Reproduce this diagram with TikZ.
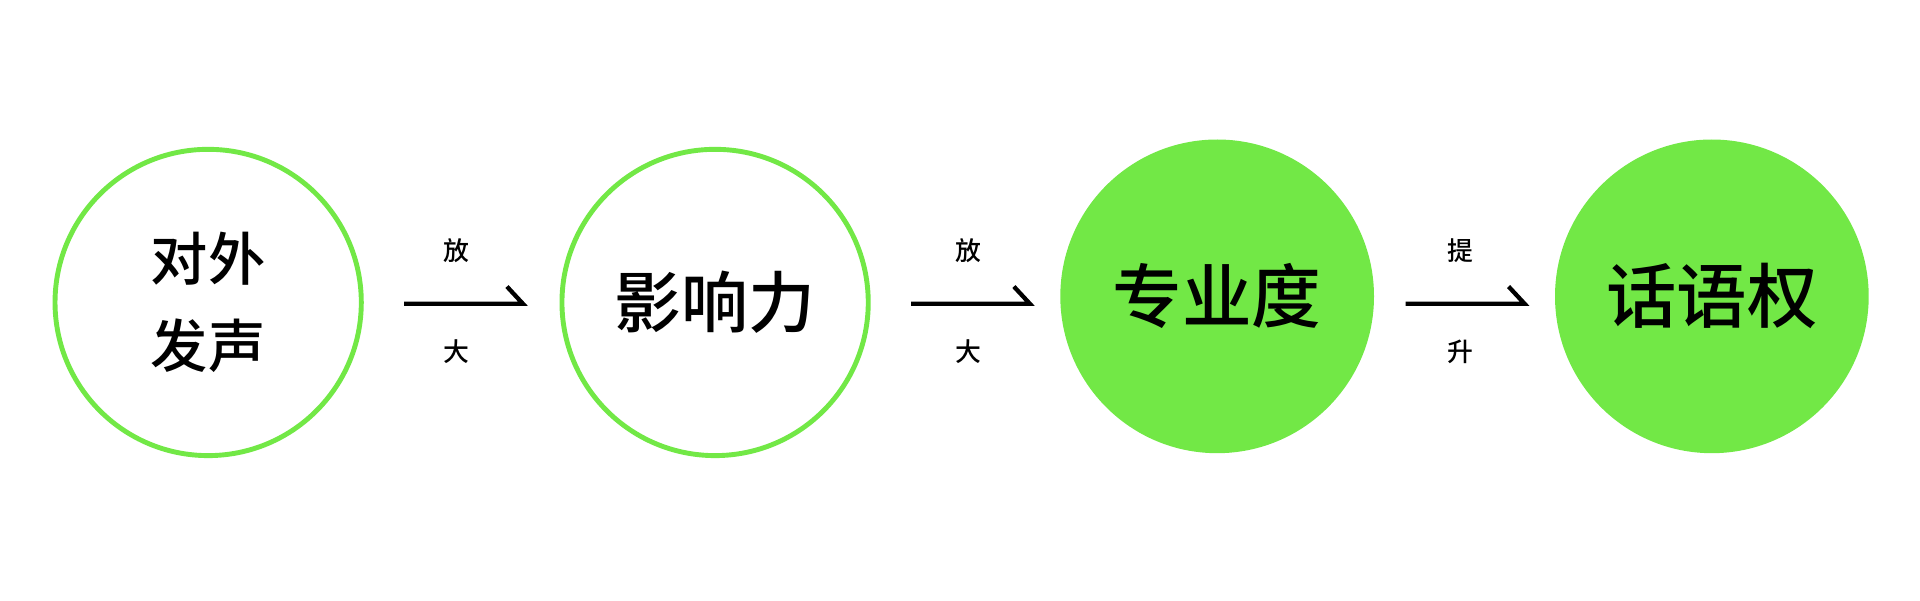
\documentclass[tikz,border=0pt]{standalone}
\usepackage{fontspec}
\newfontfamily\cjk{Noto Sans CJK SC Medium}
\usetikzlibrary{positioning}
\definecolor{leafgreen}{HTML}{72E846}

\begin{document}
\begin{tikzpicture}[x=0.012245cm, y=-0.012245cm,
		ring/.style={circle, draw=leafgreen, line width=0.049cm, minimum size=3.061cm, inner sep=0pt, align=center},
		disc/.style={circle, fill=leafgreen, minimum size=3.135cm, inner sep=0pt},
		liftline/.style={line width=0.043cm, line join=miter},
		tag/.style={font=\cjk\fontsize{7.35}{8}\selectfont}]
			\useasboundingbox (0,0) rectangle (1568,490);
			
			% circles
			\node[ring, font=\cjk\fontsize{16.3}{24.7}\selectfont] (voice) at (170,247) {对外\\发声};
			\node[ring, font=\cjk\fontsize{19}{22}\selectfont] (impact) at (584,247) {影响力};
			\node[disc, font=\cjk\fontsize{19.8}{22}\selectfont] (expert) at (994,242) {专业度};
			\node[disc, font=\cjk\fontsize{20}{22}\selectfont] (say) at (1398,242) {话语权};
			
			% arrows
			\coordinate (a1) at (330,248);
			\coordinate (b1) at (427,248);
			\coordinate (a2) at (744,248);
			\coordinate (b2) at (841,248);
			\coordinate (a3) at (1148,248);
			\coordinate (b3) at (1245,248);
			
			\draw[liftline] (a1) -- node[tag, pos=0.44, yshift=0.527cm]{放} node[tag, pos=0.44, yshift=-0.478cm]{大} (b1) -- ++(-13,-14);
			\draw[liftline] (a2) -- node[tag, pos=0.48, yshift=0.527cm]{放} node[tag, pos=0.48, yshift=-0.478cm]{大} (b2) -- ++(-13,-14);
			\draw[liftline] (a3) -- node[tag, pos=0.46, yshift=0.527cm]{提} node[tag, pos=0.46, yshift=-0.478cm]{升} (b3) -- ++(-13,-14);
		\end{tikzpicture}
\end{document}
